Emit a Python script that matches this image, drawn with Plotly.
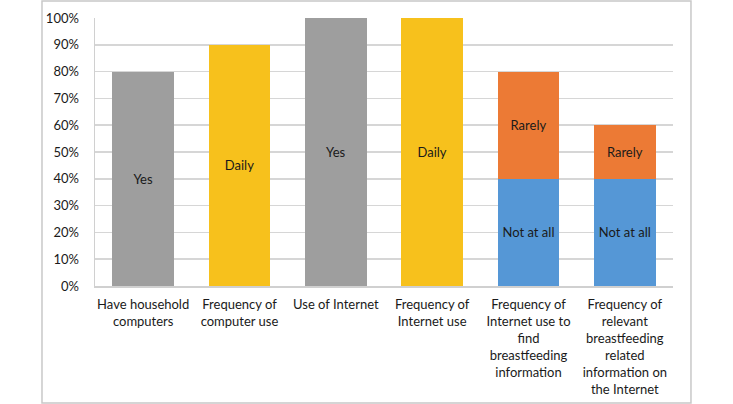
import plotly.graph_objects as go

categories = [
    "Have household<br>computers",
    "Frequency of<br>computer use",
    "Use of Internet",
    "Frequency of<br>Internet use",
    "Frequency of<br>Internet use to<br>find<br>breastfeeding<br>information",
    "Frequency of<br>relevant<br>breastfeeding<br>related<br>information on<br>the Internet",
]
main_values = [80, 90, 100, 100, None, None]
main_labels = ["Yes", "Daily", "Yes", "Daily", "", ""]
not_at_all_values = [None, None, None, None, 40, 40]
rarely_values = [None, None, None, None, 40, 20]
y_ticks = [0, 10, 20, 30, 40, 50, 60, 70, 80, 90, 100]
y_tick_labels = [f"{v}%" for v in y_ticks]

GRAY = "#9e9e9e"
YELLOW = "#f7c11c"
ORANGE = "#ec7a35"
BLUE = "#5597d6"
main_colors = [GRAY, YELLOW, GRAY, YELLOW, GRAY, GRAY]

FONT = "Lato, 'Open Sans', sans-serif"

fig = go.Figure()
fig.add_trace(go.Bar(
    x=categories, y=main_values, text=main_labels,
    marker=dict(color=main_colors, line=dict(width=0)),
    textposition="inside", insidetextanchor="middle",
    textfont=dict(color="#1a1a1a", size=13, family=FONT),
    showlegend=False, hoverinfo="x+y",
))
fig.add_trace(go.Bar(
    x=categories, y=not_at_all_values,
    text=["Not at all" if v else "" for v in not_at_all_values],
    marker=dict(color=BLUE, line=dict(width=0)),
    textposition="inside", insidetextanchor="middle",
    textfont=dict(color="#1a1a1a", size=13, family=FONT),
    showlegend=False,
))
fig.add_trace(go.Bar(
    x=categories, y=rarely_values,
    text=["Rarely" if v else "" for v in rarely_values],
    marker=dict(color=ORANGE, line=dict(width=0)),
    textposition="inside", insidetextanchor="middle",
    textfont=dict(color="#1a1a1a", size=13, family=FONT),
    showlegend=False,
))

fig.update_layout(
    width=733, height=404,
    margin=dict(l=95, r=60, t=18, b=118),
    barmode="stack", bargap=0.36,
    paper_bgcolor="white", plot_bgcolor="white",
    font=dict(family=FONT, size=13, color="#1a1a1a"),
    uniformtext=dict(minsize=12, mode="show"),
    hovermode=False,
    xaxis=dict(
        showgrid=False, showline=True, linecolor="#d0d0d0", linewidth=1.5,
        tickfont=dict(size=13), ticks="", fixedrange=True,
        ticklabelstandoff=6, automargin=False,
    ),
    yaxis=dict(
        range=[0, 100], tickvals=y_ticks, ticktext=y_tick_labels,
        showgrid=True, gridcolor="#d6d6d6", gridwidth=1.5,
        showline=True, linecolor="#d0d0d0", linewidth=1.5,
        zeroline=False, ticks="", tickfont=dict(size=13),
        ticklabelstandoff=12, automargin=False, fixedrange=True,
    ),
    shapes=[dict(
        type="rect", xref="paper", yref="paper",
        x0=-0.0917, x1=1.0311, y0=-0.4366, y1=1.0634,
        line=dict(color="#c8c8c8", width=1.5), fillcolor="rgba(0,0,0,0)",
        layer="below",
    )],
)

fig.write_html(
    "out.html",
    config={"displayModeBar": False, "staticPlot": True},
    post_script="document.body.style.margin='0';",
)
